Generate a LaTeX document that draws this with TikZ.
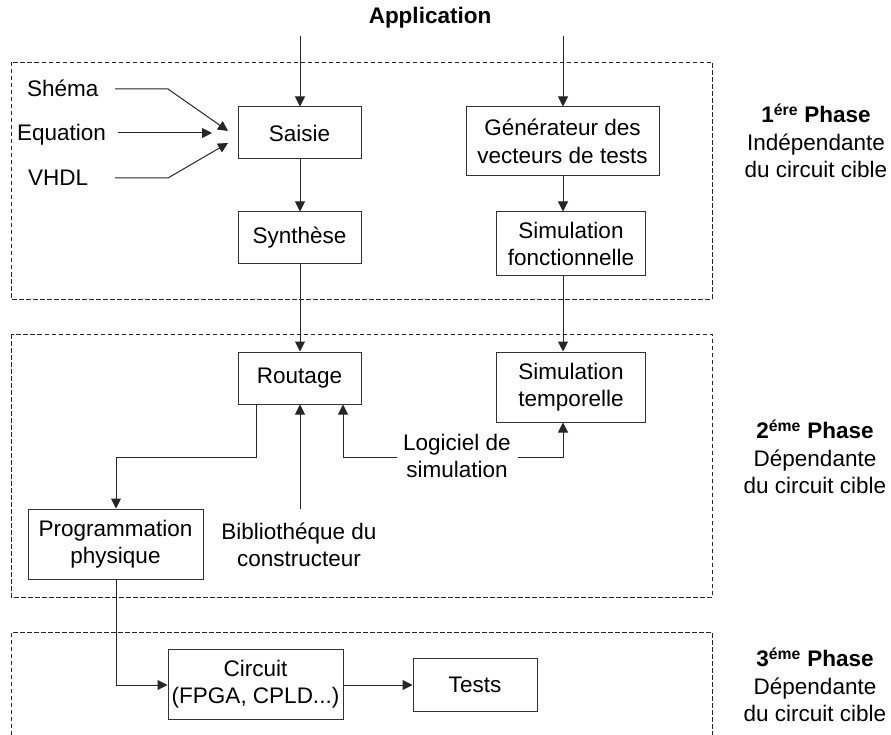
\documentclass[tikz,border=0pt]{standalone}
\usepackage{fontspec}
\setmainfont{Liberation Sans}
\usetikzlibrary{arrows.meta}
\begin{document}
\begin{tikzpicture}[x=1pt,y=-1pt,
  font=\fontsize{22.5}{27.5}\selectfont,
  box/.style={draw=black!80, line width=1pt, align=center, inner sep=0pt},
  lbl/.style={align=center, inner sep=0pt},
  conn/.style={draw=black!85, line width=1pt, -{Triangle[length=10pt,width=10pt]}},
  phasebox/.style={draw=black!85, line width=0.9pt, dash pattern=on 4.5pt off 2.5pt}]
\useasboundingbox (0,0) rectangle (891,735);

% phase frames
\draw[phasebox] (11,62) rectangle (712,299);
\draw[phasebox] (11,334) rectangle (712,597);
\draw[phasebox] (11,735) -- (11,632) -- (712,632) -- (712,735);

% title
\node[lbl, font=\fontsize{22.5}{27.5}\selectfont\bfseries] (app) at (430,18) {Application};
\coordinate (appL) at (300,36);
\coordinate (appR) at (563,36);

% boxes
\node[box, minimum width=123, minimum height=52] (saisie) at (299.5,133) {Saisie};
\node[box, minimum width=123, minimum height=52] (synth) at (299.5,238) {Synthèse};
\node[box, minimum width=123, minimum height=52] (routage) at (299.5,378) {Routage};
\node[box, minimum width=193, minimum height=69] (gen) at (562.5,141.5) {Générateur des\\vecteurs de tests};
\node[box, minimum width=149, minimum height=64] (simf) at (571,244) {Simulation\\fonctionnelle};
\node[box, minimum width=149, minimum height=70] (simt) at (571,387) {Simulation\\temporelle};
\node[box, minimum width=175, minimum height=70] (prog) at (115.5,544) {Programmation\\physique};
\node[box, minimum width=175, minimum height=70] (circ) at (255.5,684) {Circuit\\(FPGA, CPLD...)};
\node[box, minimum width=124, minimum height=53] (tests) at (475,684.5) {Tests};

% input labels
\node[lbl, anchor=base west] (shema) at (27,97) {Shéma};
\node[lbl, anchor=base west] (equation) at (17,141) {Equation};
\node[lbl, anchor=base west] (vhdl) at (28,186) {VHDL};
\coordinate (sStart) at (115,89);
\coordinate (sBend) at (168,89);
\coordinate (tipS) at (228,131);
\coordinate (eStart) at (118,133);
\coordinate (tipE) at (212,133);
\coordinate (vStart) at (115,178);
\coordinate (vBend) at (168,178);
\coordinate (tipV) at (228,143);
\draw[conn] (sStart) -- (sBend) -- (tipS);
\draw[conn] (eStart) -- (tipE);
\draw[conn] (vStart) -- (vBend) -- (tipV);

% other labels
\node[lbl] (biblio) at (299,545) {Bibliothéque du\\constructeur};
\node[lbl] (logiciel) at (457,456) {Logiciel de\\simulation};

% phase labels
\node[lbl] (ph1) at (816,141) {\textbf{1\textsuperscript{ére} Phase}\\Indépendante\\du circuit cible};
\node[lbl] (ph2) at (815,457) {\textbf{2\textsuperscript{éme} Phase}\\Dépendante\\du circuit cible};
\node[lbl] (ph3) at (815,685) {\textbf{3\textsuperscript{éme} Phase}\\Dépendante\\du circuit cible};

% connectors
\draw[conn] (appL) -- (appL |- saisie.north);
\draw[conn] (appR) -- (appR |- gen.north);
\draw[conn] (appL |- saisie.south) -- (appL |- synth.north);
\draw[conn] (appL |- synth.south) -- (appL |- routage.north);
\draw[conn] (appR |- gen.south) -- (appR |- simf.north);
\draw[conn] (appR |- simf.south) -- (appR |- simt.north);

\coordinate (bibTop) at (300,509);
\draw[conn] (bibTop) -- (bibTop |- routage.south);

\coordinate (logL) at (397,457);
\coordinate (logLB) at (343,457);
\coordinate (logR) at (518,457);
\coordinate (logRB) at (563,457);
\draw[conn] (logL) -- (logLB) -- (logLB |- routage.south);
\draw[conn] (logR) -- (logRB) -- (logRB |- simt.south);

\coordinate (rOut) at (256,404);
\coordinate (rBend1) at (256,457);
\coordinate (rBend2) at (116,457);
\draw[conn] (rOut) -- (rBend1) -- (rBend2) -- (rBend2 |- prog.north);

\coordinate (pOut) at (116,579);
\coordinate (pBend) at (116,685);
\draw[conn] (pOut) -- (pBend) -- (pBend -| circ.west);
\draw[conn] (circ.east |- pBend) -- (tests.west |- pBend);
\end{tikzpicture}
\end{document}
